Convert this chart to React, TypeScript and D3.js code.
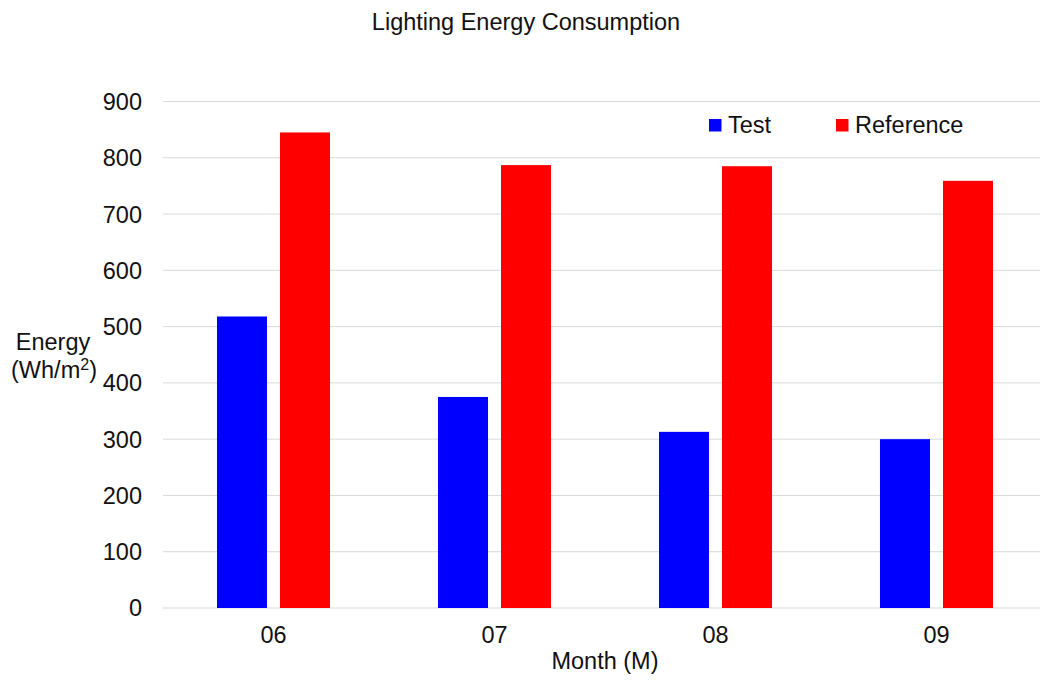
import React from "react";
import * as d3 from "d3";

const months = ["06", "07", "08", "09"];
const testValues = [518, 375, 313, 300];
const referenceValues = [845, 787, 785, 759];
const seriesNames = ["Test", "Reference"];
const seriesColors = ["#0000ff", "#ff0000"];
const yTicks = [0, 100, 200, 300, 400, 500, 600, 700, 800, 900];

const W = 1040;
const H = 682;
const FONT = "'Liberation Sans', Arial, sans-serif";
const FS = 23.5;

export default function App() {
  const left = 163;
  const right = 1047;
  const top = 101.5;
  const bottom = 608;

  const x = d3.scaleBand<string>().domain(months).range([left, right]).paddingInner(0).paddingOuter(0);
  const y = d3.scaleLinear().domain([0, 900]).range([bottom, top]);
  const inner = d3
    .scaleBand<string>()
    .domain(seriesNames)
    .range([0, x.bandwidth()])
    .paddingInner(0.206)
    .paddingOuter(0.857);

  const data = [testValues, referenceValues];

  return (
    <svg
      width={W}
      height={H}
      style={{ position: "absolute", left: 0, top: 0, background: "#fff" }}
      fontFamily={FONT}
    >
      <text x={526} y={30} textAnchor="middle" fontSize={FS} fill="#111">
        Lighting Energy Consumption
      </text>

      {yTicks.map((t) => (
        <g key={t}>
          <line x1={left} x2={W} y1={y(t)} y2={y(t)} stroke="#d9d9d9" strokeWidth={1} />
          <text
            x={142}
            y={y(t)}
            dy="0.36em"
            textAnchor="end"
            fontSize={FS}
            fill="#111"
          >
            {t}
          </text>
        </g>
      ))}

      {months.map((m, i) => (
        <g key={m}>
          {seriesNames.map((s, j) => (
            <rect
              key={s}
              x={(x(m) as number) + (inner(s) as number)}
              y={y(data[j][i])}
              width={inner.bandwidth()}
              height={bottom - y(data[j][i])}
              fill={seriesColors[j]}
            />
          ))}
          <text
            x={(x(m) as number) + x.bandwidth() / 2}
            y={643}
            textAnchor="middle"
            fontSize={FS}
            fill="#111"
          >
            {m}
          </text>
        </g>
      ))}

      <text x={(left + right) / 2} y={669} textAnchor="middle" fontSize={FS} fill="#111">
        Month (M)
      </text>

      <text x={53} y={350} textAnchor="middle" fontSize={FS} fill="#111">
        Energy
      </text>
      <text x={54} y={378} textAnchor="middle" fontSize={FS} fill="#111">
        (Wh/m<tspan dy={-8} fontSize={16}>2</tspan>
        <tspan dy={8}>)</tspan>
      </text>

      {seriesNames.map((s, j) => {
        const lx = j === 0 ? 709 : 836;
        return (
          <g key={s}>
            <rect x={lx} y={119} width={12.5} height={12.5} fill={seriesColors[j]} />
            <text x={lx + 19} y={132.5} fontSize={FS} fill="#111">
              {s}
            </text>
          </g>
        );
      })}
    </svg>
  );
}
